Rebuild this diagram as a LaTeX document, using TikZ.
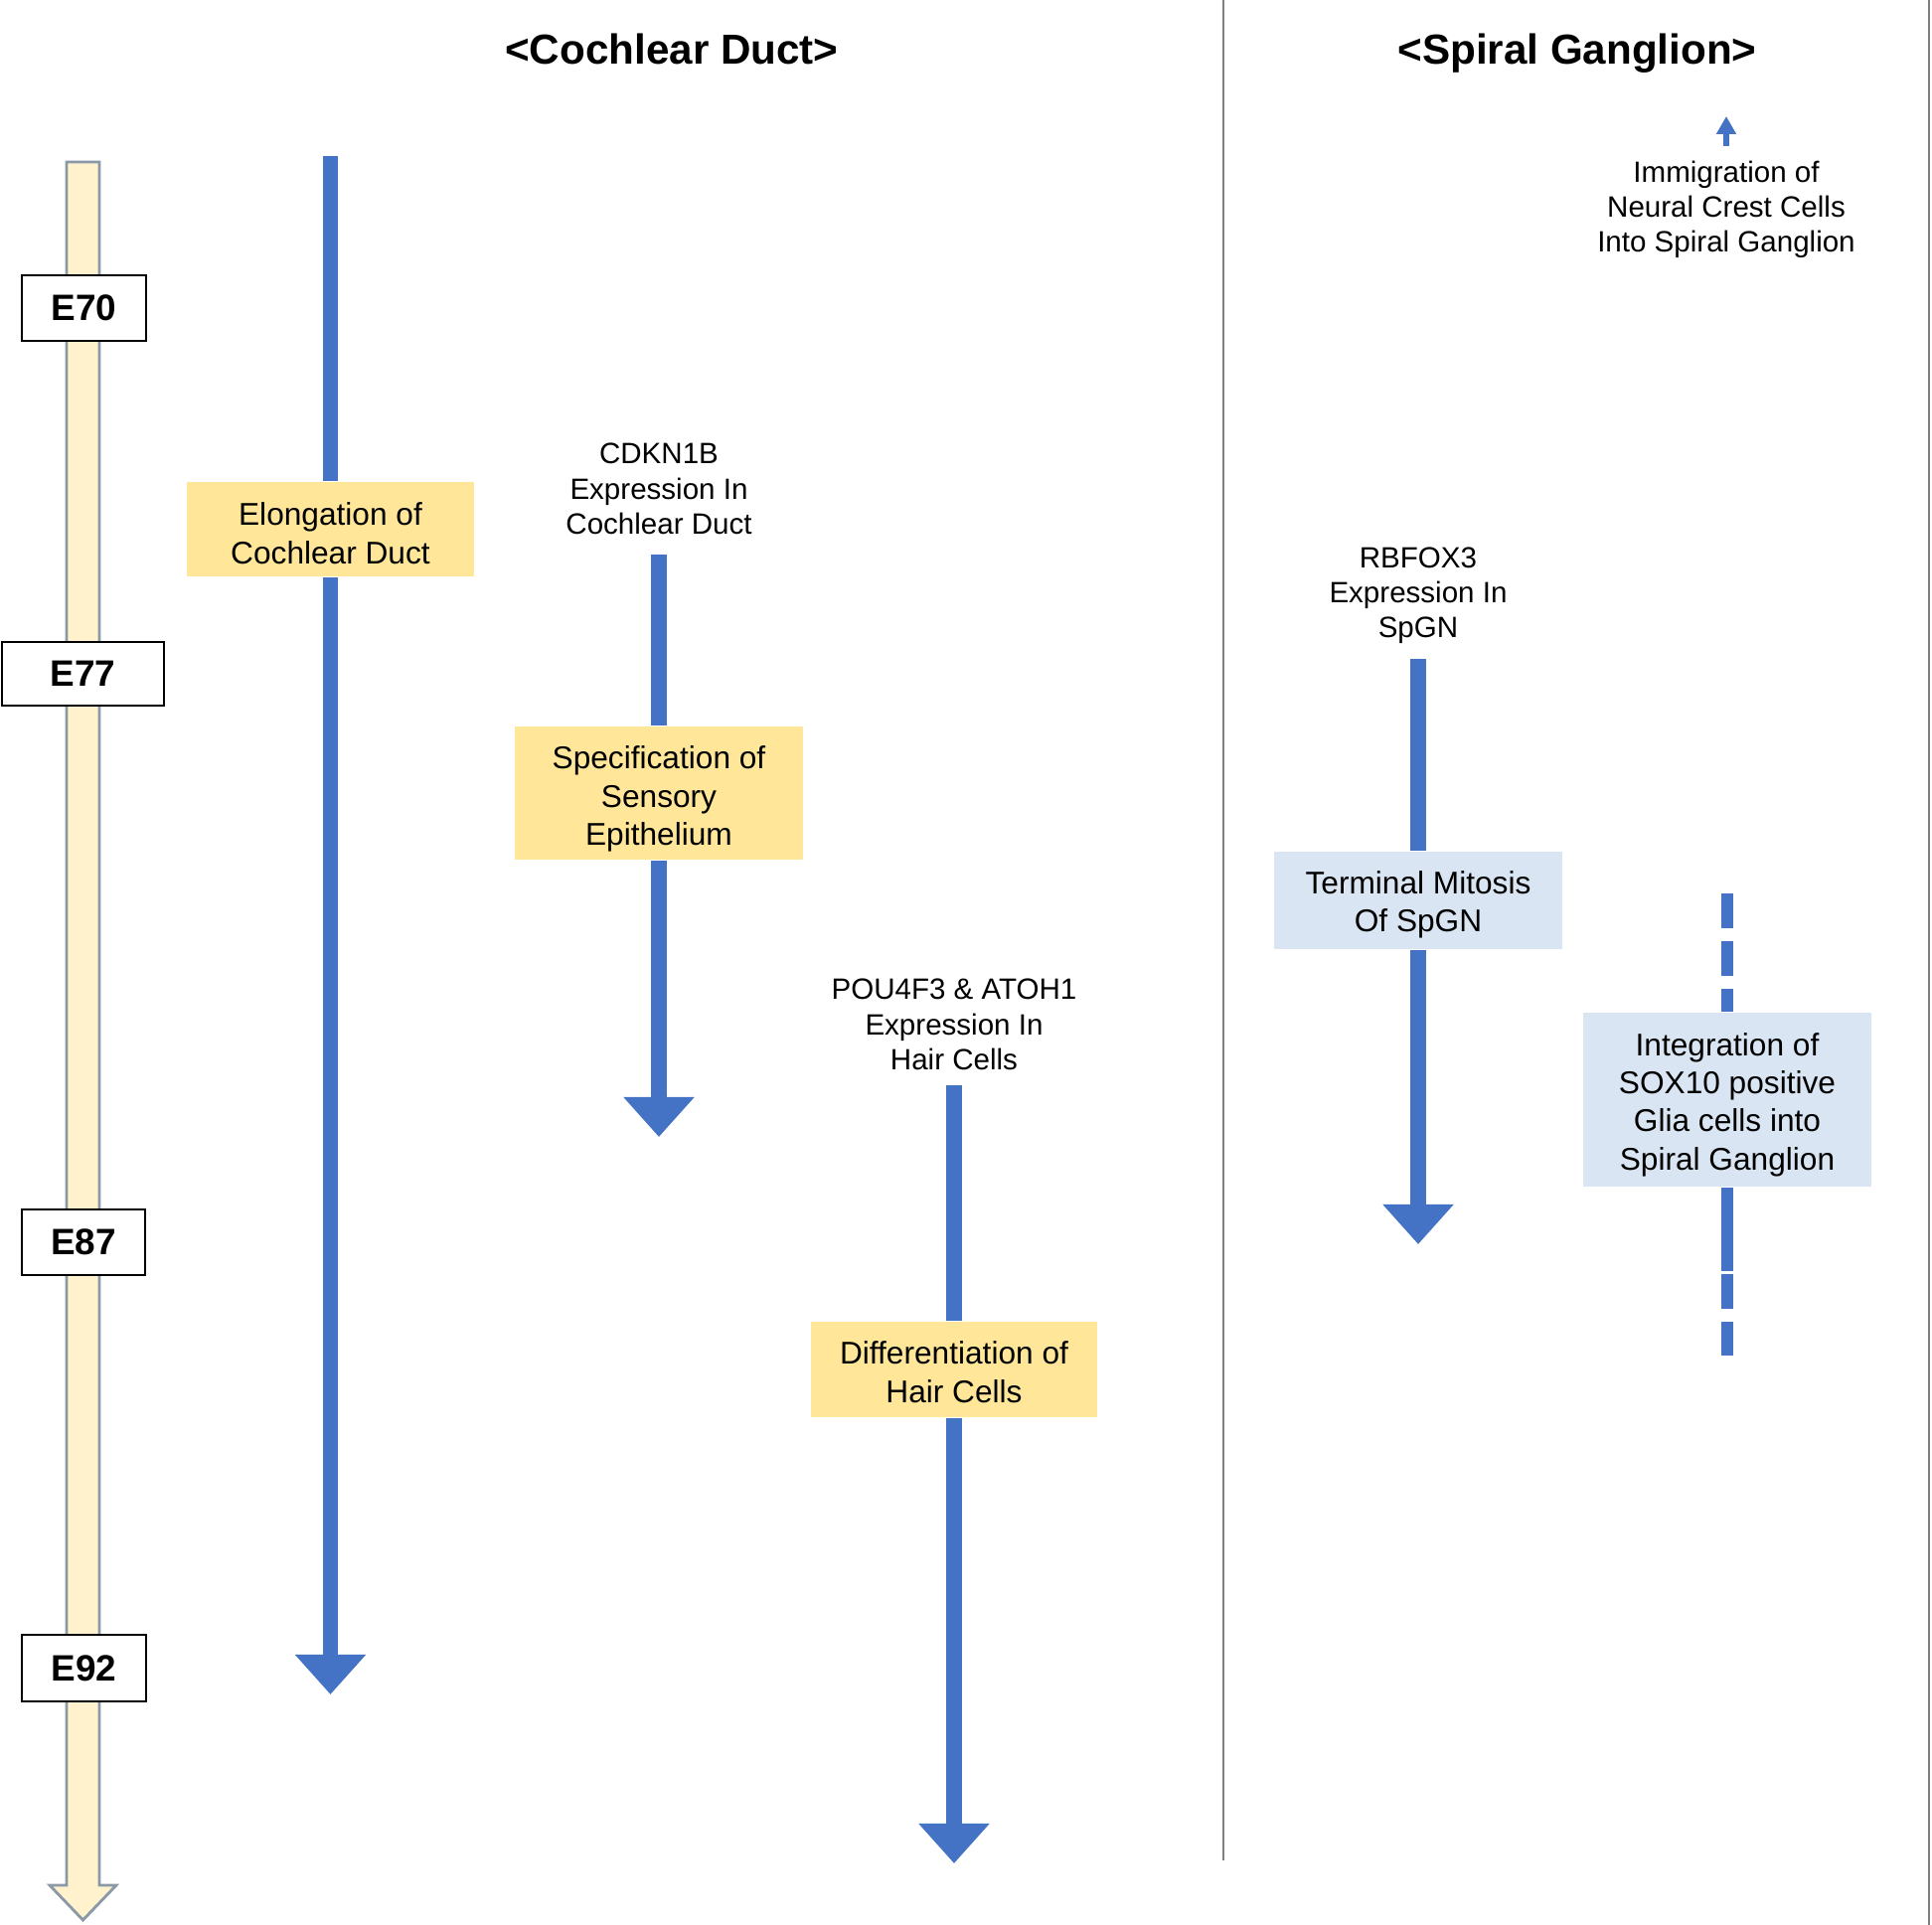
\documentclass[tikz,border=0pt]{standalone}
\usepackage{fontspec}
\setmainfont{Liberation Sans}
\usetikzlibrary{arrows.meta}
\definecolor{flowblue}{HTML}{4472C4}
\definecolor{goldfill}{HTML}{FFE699}
\definecolor{palefill}{HTML}{DAE5F3}
\definecolor{creamfill}{HTML}{FFF2CC}
\definecolor{tlborder}{HTML}{8A98A8}
\definecolor{divgrey}{HTML}{808080}
\newcommand{\liftdown}[1]{\rule{0pt}{#1}}
\begin{document}
\begin{tikzpicture}[x=0.01cm,y=-0.01cm,
  goldbox/.style={fill=goldfill, inner sep=0pt, align=center, font=\fontsize{9}{10.9}\selectfont},
  bluebox/.style={fill=palefill, inner sep=0pt, align=center, font=\fontsize{9}{10.9}\selectfont},
  lbl/.style={inner sep=0pt, align=center, font=\fontsize{8.4}{10}\selectfont},
  ebox/.style={draw=black, line width=0.7pt, fill=white, inner sep=0pt, font=\bfseries\fontsize{10.5}{12}\selectfont},
  title/.style={inner sep=0pt, anchor=base, font=\bfseries\fontsize{12}{14}\selectfont},
  shaft/.style={draw=flowblue, line width=4.27pt},
  flowarrow/.style={shaft, -{Triangle[width=19.6pt,length=11.4pt]}},
  dashline/.style={draw=flowblue, line width=3.41pt},
  divider/.style={draw=divgrey, line width=0.6pt}
]
\useasboundingbox (0,0) rectangle (1944,1937);
\fill[white] (0,0) rectangle (1944,1937);

% dividers
\draw[divider] (1231,0) -- (1231,1872);
\draw[divider] (1941,0) -- (1941,1937);

% titles
\node[title] (t1) at (676,65) {<Cochlear Duct>};
\node[title] (t2) at (1587,65) {<Spiral Ganglion>};

% timeline arrow
\draw[fill=creamfill, draw=tlborder, line width=0.8pt, line join=miter]
  (67,163) -- (100,163) -- (100,1897) -- (117,1897) -- (83.5,1932) -- (50,1897) -- (67,1897) -- cycle;
\node[ebox, minimum width=1.25cm, minimum height=0.66cm] (e70) at (84.5,310) {E70};
\node[ebox, minimum width=1.63cm, minimum height=0.64cm] (e77) at (83.5,678) {E77};
\node[ebox, minimum width=1.24cm, minimum height=0.66cm] (e87) at (84,1250) {E87};
\node[ebox, minimum width=1.25cm, minimum height=0.67cm] (e92) at (84.5,1678.5) {E92};

% cochlear duct: elongation
\node[goldbox, minimum width=2.89cm, minimum height=0.95cm] (elong) at (332.5,532.5) {\liftdown{8.9pt}Elongation of\\Cochlear Duct};
\coordinate (a1top) at (332.5,157);
\coordinate (a1tip) at (332.5,1705);
\draw[shaft] (a1top) -- (elong.north);
\draw[flowarrow] (elong.south) -- (a1tip);

% CDKN1B
\node[lbl] (cdkn) at (663,492) {CDKN1B\\Expression In\\Cochlear Duct};
\node[goldbox, minimum width=2.89cm, minimum height=1.34cm] (spec) at (663,798) {\liftdown{10pt}Specification of\\Sensory\\Epithelium};
\coordinate (a2top) at (663,558);
\coordinate (a2tip) at (663,1144);
\draw[shaft] (a2top) -- (spec.north);
\draw[flowarrow] (spec.south) -- (a2tip);

% POU4F3 & ATOH1
\node[lbl] (pou) at (960,1031) {POU4F3 \& ATOH1\\Expression In\\Hair Cells};
\node[goldbox, minimum width=2.87cm, minimum height=0.96cm] (diff) at (960,1378) {\liftdown{8.1pt}Differentiation of\\Hair Cells};
\coordinate (a3top) at (960,1092);
\coordinate (a3tip) at (960,1875);
\draw[shaft] (a3top) -- (diff.north);
\draw[flowarrow] (diff.south) -- (a3tip);

% RBFOX3
\node[lbl] (rbf) at (1427,599) {RBFOX3\\Expression In\\SpGN};
\node[bluebox, minimum width=2.90cm, minimum height=0.98cm] (term) at (1427,906) {\liftdown{8.9pt}Terminal Mitosis\\Of SpGN};
\coordinate (a4top) at (1427,663);
\coordinate (a4tip) at (1427,1252);
\draw[shaft] (a4top) -- (term.north);
\draw[flowarrow] (term.south) -- (a4tip);

% immigration
\node[lbl] (immig) at (1737,211) {Immigration of\\Neural Crest Cells\\Into Spiral Ganglion};
\coordinate (a5base) at (1737,147);
\coordinate (a5tip) at (1737,117);
\draw[draw=flowblue, line width=1.7pt, -{Triangle[width=5.4pt,length=5.1pt]}] (a5base) -- (a5tip);

% integration of glia
\node[bluebox, minimum width=2.90cm, minimum height=1.75cm] (integ) at (1738,1106.5) {\liftdown{9.4pt}Integration of\\SOX10 positive\\Glia cells into\\Spiral Ganglion};
\coordinate (d5top) at (1738,899);
\coordinate (d5bot) at (1738,1364);
\draw[dashline, dash pattern=on 9.96pt off 3.7pt] (d5top) -- (integ.north);
\draw[dashline, dash pattern=on 23.9pt off 0.85pt on 9.96pt off 3.7pt on 9.96pt off 50pt] (integ.south) -- (d5bot);
\end{tikzpicture}
\end{document}
